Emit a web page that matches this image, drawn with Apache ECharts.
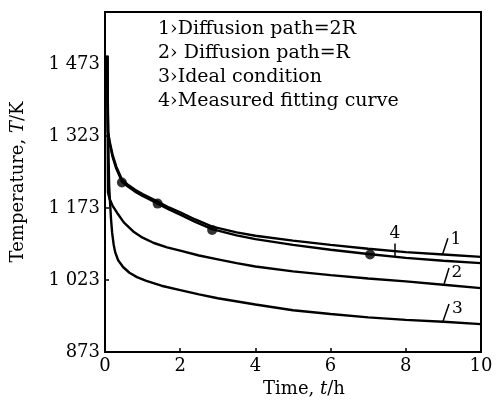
<!DOCTYPE html>
<html>
<head>
<meta charset="utf-8">
<script src="https://cdn.jsdelivr.net/npm/echarts@6/dist/echarts.min.js"></script>
<style>
  html, body { margin: 0; padding: 0; background: #fff; }
  #temp_chart { width: 496px; height: 408px; }
</style>
</head>
<body>
<div id="temp_chart"></div>
<script>
// 时间 t/h —— 曲线1、4
var time_14 = [0.06, 0.08, 0.13, 0.2, 0.3, 0.45, 0.6, 0.8, 1, 1.2, 1.4, 1.7, 2, 2.4, 2.85, 3.5, 4, 5, 6, 7, 8, 9, 10]
var temp_1 = [1490, 1332, 1309, 1284, 1259, 1232, 1222, 1211, 1202, 1194, 1186, 1174, 1164, 1149, 1134, 1122, 1115, 1105, 1096, 1088, 1081, 1076, 1071]
var temp_4 = [1490, 1328, 1305, 1280, 1255, 1228, 1218, 1207, 1198, 1190, 1182, 1170, 1159, 1144, 1129, 1116, 1108, 1096, 1086, 1077, 1069, 1063, 1058]

// 曲线2
var time_2 = [0.06, 0.08, 0.12, 0.2, 0.32, 0.5, 0.75, 1, 1.3, 1.65, 2, 2.5, 3, 3.5, 4, 5, 6, 7, 8, 9, 10]
var temp_2 = [1490, 1205, 1192, 1178, 1163, 1143, 1124, 1111, 1100, 1091, 1084, 1074, 1066, 1058, 1051, 1041, 1033, 1026, 1020, 1013, 1006]

// 曲线3
var time_3 = [0.06, 0.09, 0.11, 0.13, 0.16, 0.19, 0.23, 0.27, 0.35, 0.48, 0.65, 0.85, 1.1, 1.5, 2, 2.5, 3, 4, 5, 6, 7, 8, 9, 10]
var temp_3 = [1490, 1300, 1220, 1190, 1150, 1121, 1097, 1081, 1064, 1050, 1038, 1029, 1021, 1011, 1002, 993, 985, 972, 960, 952, 945, 940, 936, 931]

// 实测点
var meas_time = [0.45, 1.4, 2.85, 7.05]
var meas_temp = [1226, 1182, 1127, 1076]

var legend_lines = ['1›Diffusion path=2R', '2› Diffusion path=R', '3›Ideal condition', '4›Measured fitting curve']
var y_ticks = [873, 1023, 1173, 1323, 1473]

function pairs(xs, ys) {
  return xs.map(function (x, i) { return [x, ys[i]] })
}

var serif = 'DejaVu Serif'
var temp_chart = echarts.init(document.getElementById('temp_chart'))

var curve_style = { color: '#000', width: 2.4 }
var leader_style = { color: '#000', width: 1.5, type: 'solid' }
var tag_label = { show: true, fontFamily: serif, fontSize: 17, color: '#000' }

temp_chart_option = {
  backgroundColor: '#fff',
  animation: false,
  grid: {
    left: 105,
    right: 15,
    top: 12,
    bottom: 56,
    show: true,
    borderColor: '#000',
    borderWidth: 2,
  },
  xAxis: {
    type: 'value',
    min: 0,
    max: 10,
    interval: 2,
    name: 'Time, {i|t}/h',
    nameLocation: 'middle',
    nameGap: 25,
    nameTextStyle: {
      fontFamily: serif,
      fontSize: 18,
      color: '#000',
      padding: [0, 0, 0, 22],
      rich: { i: { fontFamily: serif, fontStyle: 'italic', fontSize: 18, color: '#000' } },
    },
    axisLine: { lineStyle: { color: '#000', width: 2 } },
    axisTick: { inside: true, length: 4, lineStyle: { color: '#000', width: 1.5 } },
    axisLabel: { fontFamily: serif, fontSize: 18, color: '#000', margin: 5 },
    splitLine: { show: false },
  },
  yAxis: {
    type: 'value',
    min: y_ticks[0],
    max: 1581,
    interval: 150,
    name: 'Temperature, {i|T}/K',
    nameLocation: 'middle',
    nameGap: 78,
    nameTextStyle: {
      fontFamily: serif,
      fontSize: 18,
      color: '#000',
      rich: { i: { fontFamily: serif, fontStyle: 'italic', fontSize: 18, color: '#000' } },
    },
    axisLine: { lineStyle: { color: '#000', width: 2 } },
    axisTick: { inside: true, length: 4, lineStyle: { color: '#000', width: 1.5 } },
    axisLabel: {
      fontFamily: serif,
      fontSize: 18,
      color: '#000',
      margin: 5,
      showMaxLabel: false,
      formatter: function (v) {
        if (y_ticks.indexOf(v) < 0) return ''
        var s = String(v)
        return s.length > 3 ? s.slice(0, s.length - 3) + ' ' + s.slice(-3) : s
      },
    },
    splitLine: { show: false },
  },
  graphic: legend_lines.map(function (t, i) {
    return {
      type: 'text',
      left: 158,
      top: 20 + i * 23.7,
      style: { text: t, font: '19px "DejaVu Serif"', fill: '#000' },
    }
  }),
  series: [
    {
      name: '1',
      type: 'line',
      data: pairs(time_14, temp_1),
      showSymbol: false,
      lineStyle: curve_style,
      markLine: {
        silent: true,
        symbol: 'none',
        label: { show: false },
        lineStyle: leader_style,
        data: [[{ coord: [8.98, 1077] }, { coord: [9.12, 1110] }]],
      },
      markPoint: {
        symbol: 'circle',
        symbolSize: 0,
        label: Object.assign({ formatter: '1' }, tag_label),
        data: [{ coord: [9.33, 1108] }],
      },
    },
    {
      name: '4',
      type: 'line',
      data: pairs(time_14, temp_4),
      showSymbol: false,
      lineStyle: curve_style,
      markLine: {
        silent: true,
        symbol: 'none',
        label: { show: false },
        lineStyle: leader_style,
        data: [[{ coord: [7.71, 1072] }, { coord: [7.71, 1099] }]],
      },
      markPoint: {
        symbol: 'circle',
        symbolSize: 0,
        label: Object.assign({ formatter: '4' }, tag_label),
        data: [{ coord: [7.71, 1120] }],
      },
    },
    {
      name: '2',
      type: 'line',
      data: pairs(time_2, temp_2),
      showSymbol: false,
      lineStyle: curve_style,
      markLine: {
        silent: true,
        symbol: 'none',
        label: { show: false },
        lineStyle: leader_style,
        data: [[{ coord: [9.02, 1015] }, { coord: [9.15, 1048] }]],
      },
      markPoint: {
        symbol: 'circle',
        symbolSize: 0,
        label: Object.assign({ formatter: '2' }, tag_label),
        data: [{ coord: [9.36, 1038] }],
      },
    },
    {
      name: '3',
      type: 'line',
      data: pairs(time_3, temp_3),
      showSymbol: false,
      lineStyle: curve_style,
      markLine: {
        silent: true,
        symbol: 'none',
        label: { show: false },
        lineStyle: leader_style,
        data: [[{ coord: [8.99, 937] }, { coord: [9.15, 973] }]],
      },
      markPoint: {
        symbol: 'circle',
        symbolSize: 0,
        label: Object.assign({ formatter: '3' }, tag_label),
        data: [{ coord: [9.37, 963] }],
      },
    },
    {
      name: 'measured',
      type: 'scatter',
      data: pairs(meas_time, meas_temp),
      symbol: 'circle',
      symbolSize: 10,
      itemStyle: { color: '#000' },
    },
  ],
}
temp_chart.setOption(temp_chart_option)
</script>
</body>
</html>
